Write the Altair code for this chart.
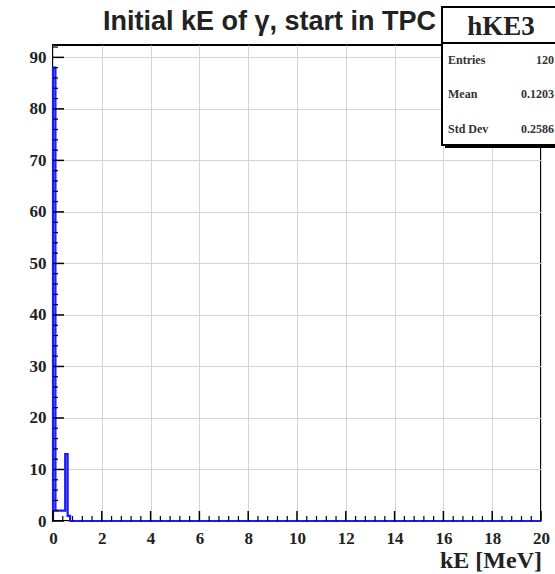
import altair as alt
import pandas as pd

# ---- data -------------------------------------------------------------
bin_width = 0.1
n_bins = 200
head_counts = [88, 2, 2, 2, 2, 13, 1]          # counts of the first bins (0.1 MeV each)
counts = head_counts + [0] * (n_bins - len(head_counts))

x_ticks = [0, 2, 4, 6, 8, 10, 12, 14, 16, 18, 20]
y_ticks = [0, 10, 20, 30, 40, 50, 60, 70, 80, 90]
x_minor = [round(i * 0.4, 2) for i in range(51) if i % 5 != 0]
y_minor = [i * 2 for i in range(47) if i % 5 != 0]

title_text = "Initial kE of γ, start in TPC"
x_title = "kE [MeV]"
stat_name = "hKE3"
stat_labels = ["Entries", "Mean", "Std Dev"]
stat_values = ["120", "0.1203", "0.2586"]

# ---- geometry ---------------------------------------------------------
W, H = 488, 476
Y_MAX = 92.4

xs = [0.0] + [round(i * bin_width, 3) for i in range(n_bins)] + [20.0]
ys = [0] + counts + [0]
hist = pd.DataFrame({"x": xs, "y": ys, "i": list(range(len(xs)))})

xscale = alt.Scale(domain=[0, 20], nice=False, zero=False)
yscale = alt.Scale(domain=[0, Y_MAX], nice=False, zero=True)

serif = "Liberation Serif"
sans = "Liberation Sans"

base_axes = alt.Chart(pd.DataFrame({"x": [0], "y": [0]})).mark_point(opacity=0).encode(
    x=alt.X("x:Q", scale=xscale,
            axis=alt.Axis(values=x_ticks, title=None, grid=True, gridColor="#d4d4d4",
                          gridWidth=1, ticks=False, domain=False, labelFont=serif,
                          labelFontWeight="bold", labelFontSize=17, labelPadding=9,
                          labelColor="#222222", format="d", labelFlush=False)),
    y=alt.Y("y:Q", scale=yscale,
            axis=alt.Axis(values=y_ticks, title=None, grid=True, gridColor="#d4d4d4",
                          gridWidth=1, ticks=False, domain=False, labelFont=serif,
                          labelFontWeight="bold", labelFontSize=17, labelPadding=7,
                          labelColor="#222222", format="d", labelFlush=False)),
)

line = alt.Chart(hist).mark_line(interpolate="step-after", color="#1a1aff",
                                 strokeWidth=2.2).encode(
    x=alt.X("x:Q", scale=xscale),
    y=alt.Y("y:Q", scale=yscale),
    order="i:Q",
)

xmaj = alt.Chart(pd.DataFrame({"x": x_ticks})).mark_rule(color="black", strokeWidth=1.5).encode(
    x=alt.X("x:Q", scale=xscale), y=alt.value(H), y2=alt.value(H - 10))
xmin = alt.Chart(pd.DataFrame({"x": x_minor})).mark_rule(color="black", strokeWidth=1.2).encode(
    x=alt.X("x:Q", scale=xscale), y=alt.value(H), y2=alt.value(H - 5))
ymaj = alt.Chart(pd.DataFrame({"y": y_ticks})).mark_rule(color="black", strokeWidth=1.5).encode(
    y=alt.Y("y:Q", scale=yscale), x=alt.value(0), x2=alt.value(11))
ymin = alt.Chart(pd.DataFrame({"y": y_minor})).mark_rule(color="black", strokeWidth=1.2).encode(
    y=alt.Y("y:Q", scale=yscale), x=alt.value(0), x2=alt.value(5))

title = alt.Chart(pd.DataFrame({"t": [title_text]})).mark_text(
    font=sans, fontWeight="bold", fontSize=27, align="left", baseline="alphabetic",
    color="#222222").encode(text="t:N", x=alt.value(50), y=alt.value(-15))

xtitle = alt.Chart(pd.DataFrame({"t": [x_title]})).mark_text(
    font=serif, fontWeight="bold", fontSize=24, align="right", baseline="alphabetic",
    color="#222222").encode(text="t:N", x=alt.value(W + 1), y=alt.value(H + 47))

# stats box
shadow = alt.Chart(pd.DataFrame({"a": [0]})).mark_rect(color="black").encode(
    x=alt.value(392), x2=alt.value(530), y=alt.value(-35), y2=alt.value(103))
box = alt.Chart(pd.DataFrame({"a": [0]})).mark_rect(fill="white", stroke="black",
                                                     strokeWidth=2).encode(
    x=alt.value(389), x2=alt.value(530), y=alt.value(-38), y2=alt.value(100))
divider = alt.Chart(pd.DataFrame({"a": [0]})).mark_rule(color="black", strokeWidth=2).encode(
    x=alt.value(389), x2=alt.value(530), y=alt.value(-2))
name = alt.Chart(pd.DataFrame({"t": [stat_name]})).mark_text(
    font=serif, fontWeight="bold", fontSize=27, align="center", baseline="alphabetic",
    color="#222222").encode(text="t:N", x=alt.value(448), y=alt.value(-10))

row_y = [19, 53, 88]
stat_layers = []
for lab, val, yy in zip(stat_labels, stat_values, row_y):
    df = pd.DataFrame({"lab": [lab], "val": [val]})
    stat_layers.append(alt.Chart(df).mark_text(
        font=serif, fontWeight="bold", fontSize=12, align="left", baseline="alphabetic",
        color="#333333").encode(text="lab:N", x=alt.value(395), y=alt.value(yy)))
    stat_layers.append(alt.Chart(df).mark_text(
        font=serif, fontWeight="bold", fontSize=12, align="right", baseline="alphabetic",
        color="#333333").encode(text="val:N", x=alt.value(501), y=alt.value(yy)))

chart = alt.layer(
    base_axes, line, xmin, xmaj, ymin, ymaj, title, xtitle,
    shadow, box, divider, name, *stat_layers,
).properties(
    width=W, height=H,
    autosize=alt.AutoSizeParams(type="none"),
    padding={"left": 53, "top": 45, "right": 14, "bottom": 53},
    background="white",
).configure_view(stroke="black", strokeWidth=2)

chart.save("out.html", embed_options={"renderer": "svg", "actions": False})
